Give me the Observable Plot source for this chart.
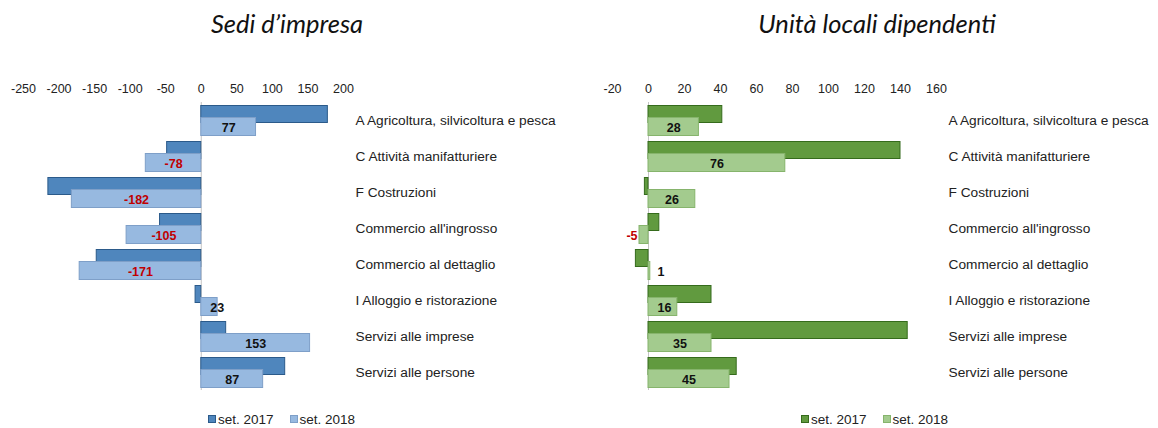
<!DOCTYPE html>
<html>
<head>
<meta charset="utf-8">
<script src="https://cdn.jsdelivr.net/npm/d3@7"></script>
<script src="https://cdn.jsdelivr.net/npm/@observablehq/plot@0.6"></script>
<style>
  html, body { margin: 0; padding: 0; background: #fff; }
  #wrap { position: relative; width: 1158px; height: 428px; overflow: hidden; font-family: "Liberation Sans", Arial, sans-serif; }
  .title { position: absolute; top: 8px; font-family: "Lato", "Open Sans", sans-serif; font-style: italic; font-size: 25.5px; color: #111; text-align: center; white-space: nowrap; }
  .panel { position: absolute; top: 40px; }
  .legend { position: absolute; top: 412px; font-size: 13.5px; color: #222; white-space: nowrap; }
  .legend span.sw { display: inline-block; width: 6px; height: 6px; margin-right: 2px; vertical-align: 1px; }
  .legend span.item { margin-right: 16px; }
</style>
</head>
<body>
<div id="wrap">
  <div class="title" style="left:187px;width:200px;">Sedi d’impresa</div>
  <div class="title" style="left:727px;width:300px;">Unità locali dipendenti</div>
  <div class="panel" id="left" style="left:0px;"></div>
  <div class="panel" id="right" style="left:590px;"></div>
  <div class="legend" id="legL" style="left:208px;"></div>
  <div class="legend" id="legR" style="left:801px;"></div>
</div>
<script>
const categories = [
  "A Agricoltura, silvicoltura e pesca",
  "C Attività manifatturiere",
  "F Costruzioni",
  "Commercio all'ingrosso",
  "Commercio al dettaglio",
  "I Alloggio e ristorazione",
  "Servizi alle imprese",
  "Servizi alle persone"
];
const seriesNames = ["set. 2017", "set. 2018"];
const sedi2017 = [178, -48, -215, -58, -147, -8, 35, 118];
const sedi2018 = [77, -78, -182, -105, -171, 23, 153, 87];
const unita2017 = [41, 140, -2, 6, -7, 35, 144, 49];
const unita2018 = [28, 76, 26, -5, 1, 16, 35, 45];
const sediTicks = [-250, -200, -150, -100, -50, 0, 50, 100, 150, 200];
const unitaTicks = [-20, 0, 20, 40, 60, 80, 100, 120, 140, 160];

function panel(opts) {
  const {v17, v18, ticks, width, marginLeft, marginRight, c17, s17, c18, s18} = opts;
  const domain = [ticks[0], ticks[ticks.length - 1]];
  const k = (width - marginLeft - marginRight) / (domain[1] - domain[0]);
  const d17 = categories.map((c, i) => ({cat: c, v: v17[i]}));
  const d18 = categories.map((c, i) => ({cat: c, v: v18[i]}));
  const labels = d18.map(d => {
    const half = Math.abs(d.v) * k / 2;
    const w = String(d.v).length * 7;
    if (half - w / 2 >= 8) return {...d, lx: d.v / 2, anchor: "middle"};
    const sgn = d.v < 0 ? -1 : 1;
    return {...d, lx: sgn * (sgn < 0 ? 11 : 9) / k, anchor: sgn < 0 ? "end" : "start"};
  });
  const textMark = (anchor) => Plot.text(labels.filter(d => d.anchor === anchor), {
    x: "lx", y: "cat", text: d => String(d.v), textAnchor: anchor, dy: 7.5,
    fill: d => d.v < 0 ? "#c00000" : "#111", fontWeight: "bold", fontSize: 12.5
  });
  return Plot.plot({
    width,
    height: 350,
    marginTop: 62,
    marginBottom: 0,
    marginLeft,
    marginRight,
    style: {fontFamily: "'Liberation Sans', Arial, sans-serif", fontSize: "13px", color: "#222", background: "transparent", overflow: "visible"},
    x: {domain, ticks, label: null},
    y: {domain: categories, padding: 0, label: null},
    marks: [
      Plot.axisX({anchor: "top", ticks, tickSize: 0, tickPadding: 10, tickFormat: d => String(d), fontSize: 12.5, fill: "#222", label: null}),
      Plot.axisY({anchor: "right", tickSize: 0, tickPadding: 12, fontSize: 13.7, fill: "#222", label: null}),
      Plot.ruleX([0], {stroke: "#c4c4c4", strokeWidth: 1}),
      Plot.barX(d17, {x: "v", y: "cat", insetTop: 3.5, insetBottom: 15.5, fill: c17, stroke: s17, strokeWidth: 1}),
      Plot.barX(d18, {x: "v", y: "cat", insetTop: 15.5, insetBottom: 2.5, fill: c18, stroke: s18, strokeWidth: 1}),
      textMark("middle"), textMark("start"), textMark("end")
    ]
  });
}

const leftColors = {c17: "#4f86bd", s17: "#2b5a8a", c18: "#97b9e0", s18: "#7e9fc8"};
const rightColors = {c17: "#619a3f", s17: "#356b1c", c18: "#a3cb8e", s18: "#86b46c"};

document.getElementById("left").appendChild(panel({
  v17: sedi2017, v18: sedi2018, ticks: sediTicks, width: 590, marginLeft: 23, marginRight: 247, ...leftColors
}));
document.getElementById("right").appendChild(panel({
  v17: unita2017, v18: unita2018, ticks: unitaTicks, width: 568, marginLeft: 22, marginRight: 222, ...rightColors
}));

function legend(id, colors) {
  const el = document.getElementById(id);
  el.innerHTML = seriesNames.map((n, i) => {
    const c = i === 0 ? colors.c17 : colors.c18;
    const s = i === 0 ? colors.s17 : colors.s18;
    return `<span class="item"><span class="sw" style="background:${c};border:1px solid ${s};"></span>${n}</span>`;
  }).join("");
}
legend("legL", leftColors);
legend("legR", rightColors);
</script>
</body>
</html>
